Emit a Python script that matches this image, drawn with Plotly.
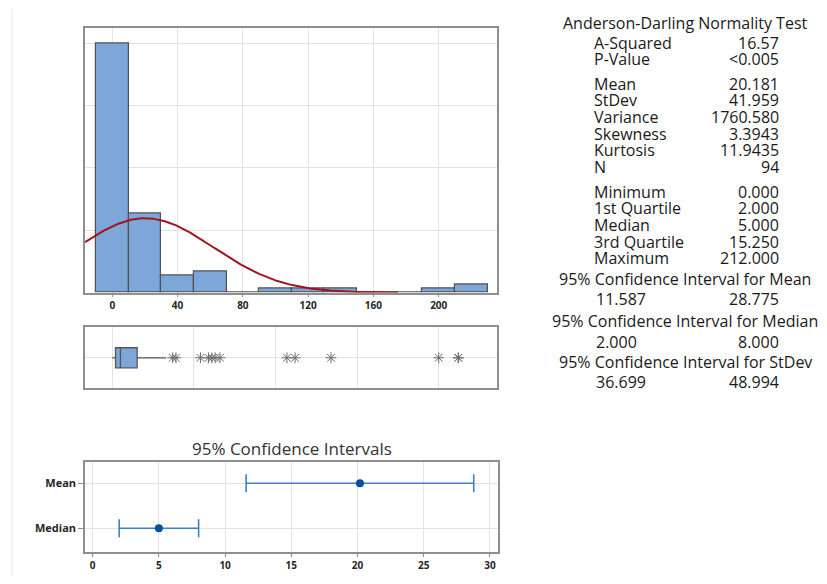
import numpy as np
import plotly.graph_objects as go

# page body has an 8px margin: figure starts at (8, 8) of the window
OX, OY = 8, 8
W, H = 819, 568

# ---------------- data ----------------
bin_centers = [0, 20, 40, 60, 80, 100, 120, 140, 160, 180, 200, 220]
bin_counts = [60, 19, 4, 5, 0, 1, 1, 1, 0, 0, 1, 2]
bin_width = 20

n_obs = 94
mean_val = 20.181
stdev_val = 41.959

q1_val = 2.0
median_val = 5.0
q3_val = 15.25
min_val = 0.0
upper_whisker = 33
outliers = [37, 39, 54, 59, 61, 63, 66, 107, 112, 134, 200, 212, 212]

ci_labels = ["Mean", "Median"]
ci_centers = [20.181, 5.0]
ci_low = [11.587, 2.000]
ci_high = [28.775, 8.000]

hist_ticks = [0, 40, 80, 120, 160, 200]
box_grid = [0, 50, 100, 150, 200]

stats_block1 = [("A-Squared", "16.57"), ("P-Value", "<0.005")]
stats_block2 = [("Mean", "20.181"), ("StDev", "41.959"), ("Variance", "1760.580"),
                ("Skewness", "3.3943"), ("Kurtosis", "11.9435"), ("N", "94")]
stats_block3 = [("Minimum", "0.000"), ("1st Quartile", "2.000"), ("Median", "5.000"),
                ("3rd Quartile", "15.250"), ("Maximum", "212.000")]
ci_text = [("95% Confidence Interval for Mean", "11.587", "28.775"),
           ("95% Confidence Interval for Median", "2.000", "8.000"),
           ("95% Confidence Interval for StDev", "36.699", "48.994")]

# ---------------- helpers (window pixels -> paper fraction) ----------------
def px(x):
    return (x - OX) / W

def py(y):
    return 1 - (y - OY) / H

FONT = "Open Sans"
BAR_FILL = "#7DA7D9"
EDGE = "#505050"
FRAME = "#8F8F8F"
GRID = "#E3E3E3"
TICK_COLOR = "#262626"

xr = [-16.7, 235.7]

fig = go.Figure()

# histogram bars
fig.add_trace(go.Bar(x=bin_centers, y=bin_counts, width=bin_width,
                     marker=dict(color=BAR_FILL, line=dict(color=EDGE, width=1.2)),
                     xaxis="x", yaxis="y", showlegend=False, hoverinfo="skip"))

# fitted normal curve
xs = np.linspace(xr[0], 175, 300)
ys = n_obs * bin_width * np.exp(-0.5 * ((xs - mean_val) / stdev_val) ** 2) / (stdev_val * np.sqrt(2 * np.pi))
fig.add_trace(go.Scatter(x=xs, y=ys, mode="lines", line=dict(color="#A3121C", width=2),
                         xaxis="x", yaxis="y", showlegend=False, hoverinfo="skip"))

# boxplot
fig.add_trace(go.Box(y=[0], q1=[q1_val], median=[median_val], q3=[q3_val],
                     lowerfence=[min_val], upperfence=[upper_whisker],
                     orientation="h", width=0.33, whiskerwidth=0,
                     fillcolor=BAR_FILL, line=dict(color="#555555", width=1.3),
                     boxpoints=False, xaxis="x2", yaxis="y2", showlegend=False,
                     hoverinfo="skip"))
fig.add_trace(go.Scatter(x=outliers, y=[0] * len(outliers), mode="markers",
                         marker=dict(symbol="asterisk-open", size=9,
                                     line=dict(color="#6A6A6A", width=1), color="#6A6A6A"),
                         xaxis="x2", yaxis="y2", showlegend=False, hoverinfo="skip"))

# confidence intervals
ci_y = [2, 1]
fig.add_trace(go.Scatter(
    x=ci_centers, y=ci_y, mode="markers",
    marker=dict(color="#0B4EA2", size=8),
    error_x=dict(type="data", symmetric=False,
                 array=[h - c for h, c in zip(ci_high, ci_centers)],
                 arrayminus=[c - l for l, c in zip(ci_low, ci_centers)],
                 color="#3F7FC6", thickness=1.6, width=9),
    xaxis="x3", yaxis="y3", showlegend=False, hoverinfo="skip"))

axis_common = dict(showline=True, linecolor=FRAME, linewidth=1.5, mirror=True,
                   gridcolor=GRID, gridwidth=1, zeroline=False)

dom_x = [px(85), px(497)]
fig.update_layout(
    width=W, height=H, margin=dict(l=0, r=0, t=0, b=0),
    paper_bgcolor="white", plot_bgcolor="white",
    font=dict(family=FONT, color="#1A1A1A"),
    bargap=0,
    xaxis=dict(domain=dom_x, range=xr, anchor="y", tickvals=hist_ticks,
               ticks="outside", ticklen=3, tickcolor=FRAME,
               tickfont=dict(size=10, color=TICK_COLOR, weight="bold"), **axis_common),
    yaxis=dict(domain=[py(292.5), py(27.5)], range=[0, 63.8], anchor="x",
               dtick=15, showticklabels=False, **axis_common),
    xaxis2=dict(domain=dom_x, range=xr, anchor="y2", tickvals=box_grid,
                showticklabels=False, **axis_common),
    yaxis2=dict(domain=[py(388.3), py(327.3)], range=[-0.5, 0.5], anchor="x2",
                tickvals=[0], showticklabels=False, **axis_common),
    xaxis3=dict(domain=[px(85), px(498.3)], range=[-0.58, 30.63], anchor="y3",
                dtick=5, tick0=0, ticks="outside", ticklen=4, tickcolor=FRAME,
                tickfont=dict(size=10, color=TICK_COLOR, weight="bold"), **axis_common),
    yaxis3=dict(domain=[py(551.7), py(461.7)], range=[0.48, 2.48], anchor="x3",
                tickvals=ci_y, ticktext=ci_labels,
                ticks="outside", ticklen=5, tickcolor=FRAME,
                tickfont=dict(size=11, color=TICK_COLOR, weight="bold"), **axis_common),
)

ann = []
ann.append(dict(x=px(291.7), y=py(448.3), text="95% Confidence Intervals",
                font=dict(size=17, color="#333333")))

# right statistics panel
TS = 16
ann.append(dict(x=px(685), y=py(23.3), text="Anderson-Darling Normality Test",
                font=dict(size=TS)))
rows_y1 = [43.3, 59.3]
rows_y2 = [84, 100, 117.3, 134, 150, 166.7]
rows_y3 = [191.7, 208.3, 225, 241.7, 257.7]
for block, ys_ in [(stats_block1, rows_y1), (stats_block2, rows_y2), (stats_block3, rows_y3)]:
    for (lab, val), yy in zip(block, ys_):
        ann.append(dict(x=px(593.3), y=py(yy), text=lab, xanchor="left", font=dict(size=TS)))
        ann.append(dict(x=px(780), y=py(yy), text=val, xanchor="right", font=dict(size=TS)))
ci_head_y = [279, 321, 362.3]
ci_val_y = [299, 341.7, 381.7]
for (head, lo, hi), yh, yv in zip(ci_text, ci_head_y, ci_val_y):
    ann.append(dict(x=px(685), y=py(yh), text=head, font=dict(size=TS)))
    ann.append(dict(x=px(595), y=py(yv), text=lo, xanchor="left", font=dict(size=TS)))
    ann.append(dict(x=px(780), y=py(yv), text=hi, xanchor="right", font=dict(size=TS)))

for a in ann:
    a.setdefault("xanchor", "center")
    a.update(xref="paper", yref="paper", yanchor="middle", showarrow=False, borderpad=0)
fig.update_layout(annotations=ann)

# faint page edge line on left
fig.add_shape(type="line", xref="paper", yref="paper", x0=px(12), x1=px(12),
              y0=py(9), y1=0, line=dict(color="#E6E6E6", width=1))

fig.write_html("out.html")
